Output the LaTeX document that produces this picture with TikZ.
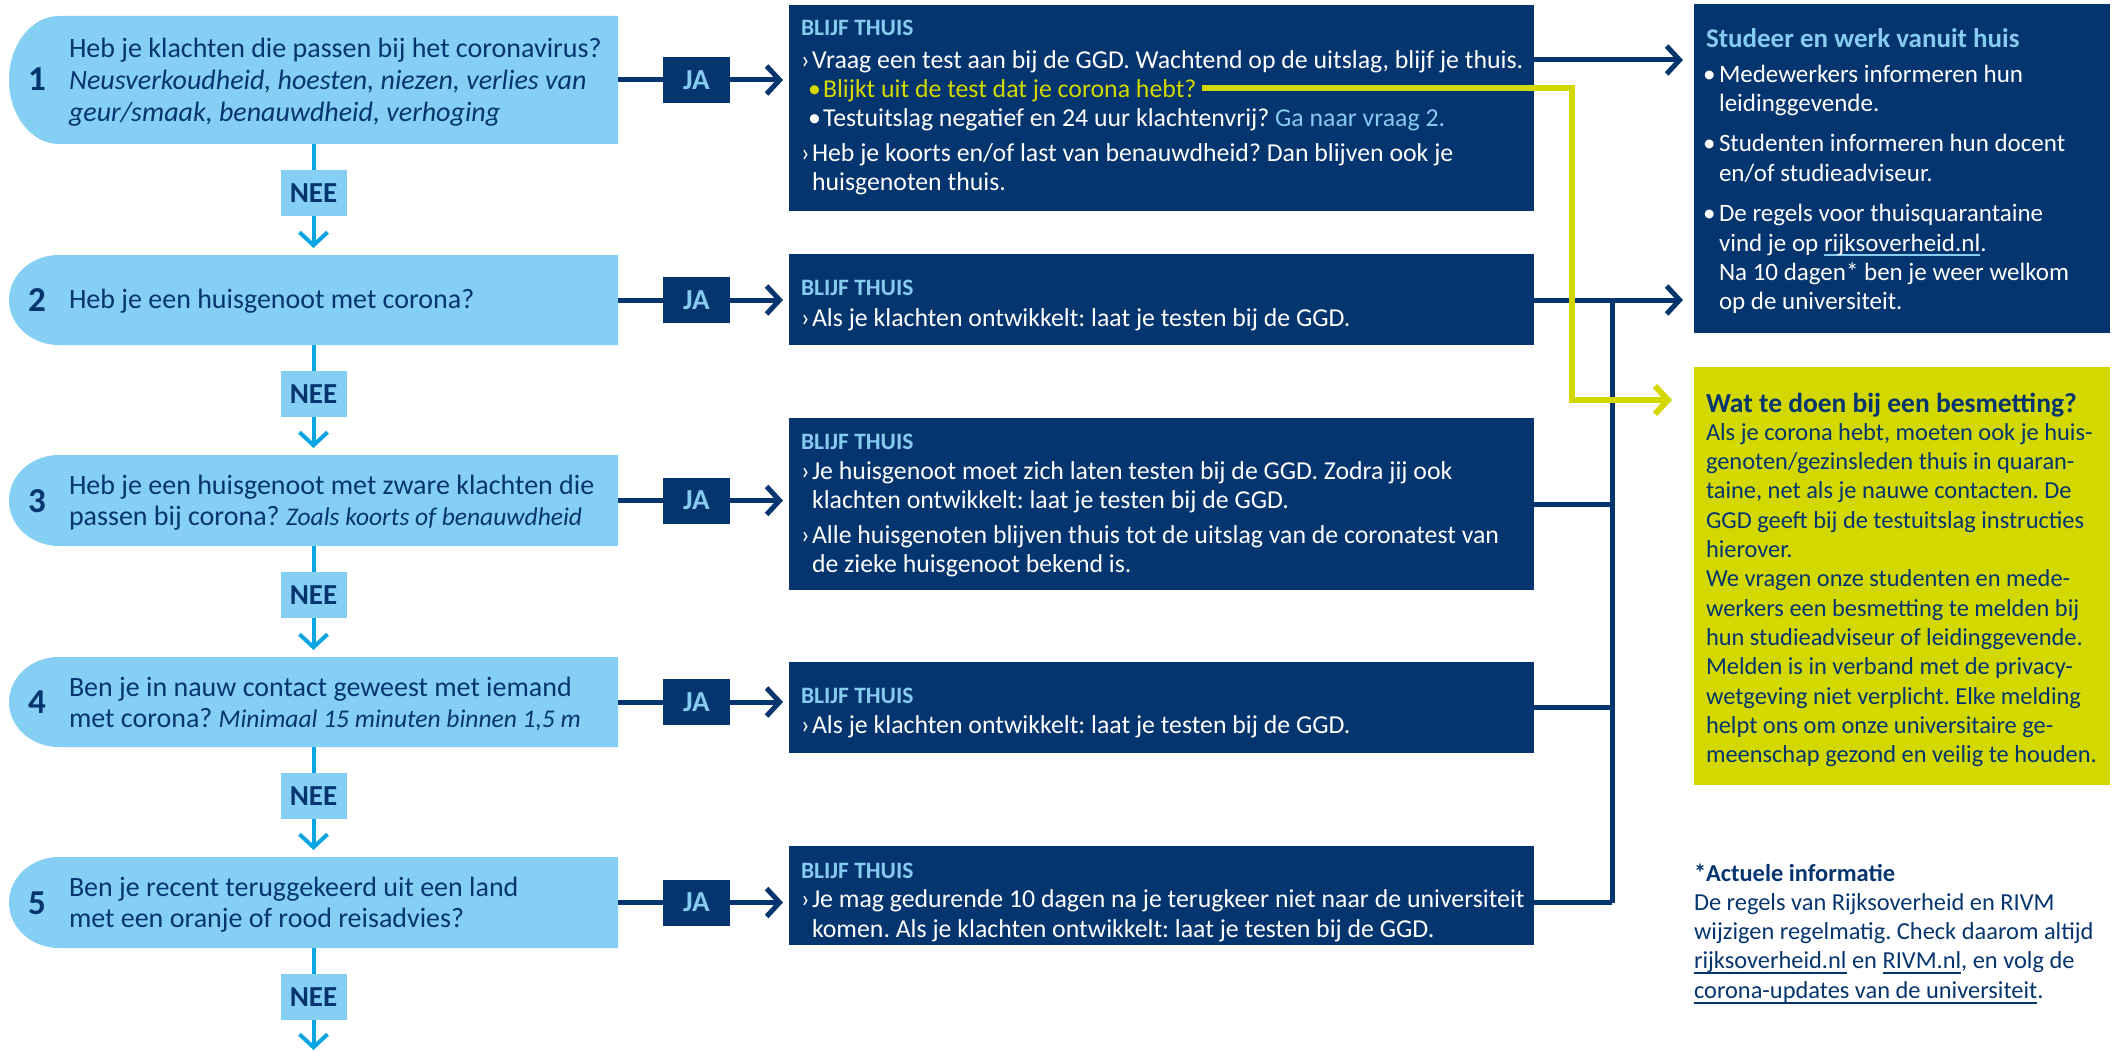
\documentclass[tikz,border=0pt]{standalone}
\usepackage{fontspec}
\setmainfont{Carlito}
\usetikzlibrary{arrows.meta}
\definecolor{dblue}{HTML}{05356F}
\definecolor{lblue}{HTML}{85CFF4}
\definecolor{cyanl}{HTML}{0AA5E2}
\definecolor{hblue}{HTML}{86CBF0}
\definecolor{ylw}{HTML}{D3D800}
\newcommand\fsz[1]{\fontsize{#1pt}{#1pt}\selectfont}
\newsavebox\ulbox
\newcommand\ulc[3][6pt]{\sbox\ulbox{#3}\rlap{\color{#2}\rule[-#1]{\wd\ulbox}{1.6pt}}\usebox\ulbox}
\newcommand\qfill[2]{\fill[lblue] (#1.north east) -- ([xshift=50pt]#1.north west) arc[start angle=90,end angle=270,x radius=50pt,y radius=#2pt] -- (#1.south east) -- cycle;}
\newcommand\qit[1]{{\fontsize{25.5pt}{25.5pt}\selectfont\itshape #1}}
\frenchspacing
\begin{document}
\begin{tikzpicture}[x=1pt,y=-1pt,
  qbox/.style={minimum width=609pt, inner sep=0pt, outer sep=0pt},
  bbox/.style={fill=dblue, minimum width=745pt, inner sep=0pt, outer sep=0pt},
  rbox/.style={minimum width=416pt, inner sep=0pt, outer sep=0pt},
  jalab/.style={fill=dblue, text=hblue, font=\fsz{29}\bfseries, minimum width=67pt, minimum height=46pt, inner sep=0pt, outer sep=0pt},
  neelab/.style={fill=lblue, text=dblue, font=\fsz{29}\bfseries, minimum width=66pt, minimum height=46pt, inner sep=0pt, outer sep=0pt},
  tline/.style={anchor=base west, inner sep=0pt, outer sep=0pt},
  qtxt/.style={tline, text=dblue, font=\fsz{28}},
  qnum/.style={anchor=base, inner sep=0pt, text=dblue, font=\fsz{35}\bfseries},
  bhead/.style={tline, text=hblue, font=\fsz{23.5}\bfseries},
  btxt/.style={tline, text=white, font=\fsz{25.8}},
  shead/.style={tline, text=hblue, font=\fsz{27}\bfseries},
  stxt/.style={tline, text=white, font=\fsz{25}},
  whead/.style={tline, text=dblue, font=\fsz{27.5}\bfseries},
  wtxt/.style={tline, text=dblue, font=\fsz{24.4}},
  ahead/.style={tline, text=dblue, font=\fsz{24.4}\bfseries},
  dcon/.style={draw=dblue, line width=5pt},
  ccon/.style={draw=cyanl, line width=4pt},
  ycon/.style={draw=ylw, line width=6pt, line join=miter},
  arrw/.style={-{Straight Barb[length=13pt,width=28pt]}}
]
\useasboundingbox (0,0) rectangle (2116,1051);
\fill[white] (0,0) rectangle (2116,1051);

% question boxes
\node[qbox, minimum height=128pt] (q1) at (313.5,80) {};
\node[qbox, minimum height=90pt] (q2) at (313.5,300) {};
\node[qbox, minimum height=91pt] (q3) at (313.5,500.5) {};
\node[qbox, minimum height=90pt] (q4) at (313.5,702) {};
\node[qbox, minimum height=91pt] (q5) at (313.5,902.5) {};
\qfill{q1}{64}
\qfill{q2}{45}
\qfill{q3}{45.5}
\qfill{q4}{45}
\qfill{q5}{45.5}

\node[qnum] (q1n) at (37,91) {1};
\node[qtxt] (q1a) at (69,58) {Heb je klachten die passen bij het coronavirus?};
\node[qtxt] (q1b) at (69,90) {\itshape Neusverkoudheid, hoesten, niezen, verlies van};
\node[qtxt] (q1c) at (69,122) {\itshape geur/smaak, benauwdheid, verhoging};
\node[qnum] (q2n) at (37,311) {2};
\node[qtxt] (q2a) at (69,308) {Heb je een huisgenoot met corona?};
\node[qnum] (q3n) at (37,512) {3};
\node[qtxt] (q3a) at (69,494) {Heb je een huisgenoot met zware klachten die};
\node[qtxt] (q3b) at (69,525) {passen bij corona? \qit{Zoals koorts of benauwdheid}};
\node[qnum] (q4n) at (37,713) {4};
\node[qtxt] (q4a) at (69,696) {Ben je in nauw contact geweest met iemand};
\node[qtxt] (q4b) at (69,727) {met corona? \qit{Minimaal 15 minuten binnen 1,5 m}};
\node[qnum] (q5n) at (37,914) {5};
\node[qtxt] (q5a) at (69,896) {Ben je recent teruggekeerd uit een land};
\node[qtxt] (q5b) at (69,927) {met een oranje of rood reisadvies?};

% NEE labels
\node[neelab] (n1) at (313.5,193) {NEE};
\node[neelab] (n2) at (313.5,394) {NEE};
\node[neelab] (n3) at (313.5,595) {NEE};
\node[neelab] (n4) at (313.5,796) {NEE};
\node[neelab] (n5) at (313.5,997) {NEE};
\coordinate (qend) at (313.5,1051);

% JA labels
\node[jalab] (j1) at (696.5,80) {JA};
\node[jalab] (j2) at (696.5,300) {JA};
\node[jalab] (j3) at (696.5,500.5) {JA};
\node[jalab] (j4) at (696.5,702) {JA};
\node[jalab] (j5) at (696.5,902.5) {JA};

% BLIJF THUIS boxes
\node[bbox, minimum height=206pt] (b1) at (1161.5,108) {};
\node[bbox, minimum height=91pt] (b2) at (1161.5,299.5) {};
\node[bbox, minimum height=172pt] (b3) at (1161.5,504) {};
\node[bbox, minimum height=91pt] (b4) at (1161.5,707.5) {};
\node[bbox, minimum height=99pt] (b5) at (1161.5,895.5) {};

\node[bhead] (b1h) at (801,36) {BLIJF THUIS};
\node[btxt] (b1a) at (801,69) {\makebox[11pt][l]{›}Vraag een test aan bij de GGD. Wachtend op de uitslag, blijf je thuis.};
\node[btxt, text=ylw] (b1b) at (808,98) {\makebox[15pt][l]{•}Blijkt uit de test dat je corona hebt?};
\node[btxt] (b1c) at (808,127) {\makebox[15pt][l]{•}Testuitslag negatief en 24 uur klachtenvrij? \textcolor{hblue}{Ga naar vraag 2.}};
\node[btxt] (b1d) at (801,162) {\makebox[11pt][l]{›}Heb je koorts en/of last van benauwdheid? Dan blijven ook je};
\node[btxt] (b1e) at (812,191) {huisgenoten thuis.};

\node[bhead] (b2h) at (801,295) {BLIJF THUIS};
\node[btxt] (b2a) at (801,326) {\makebox[11pt][l]{›}Als je klachten ontwikkelt: laat je testen bij de GGD.};

\node[bhead] (b3h) at (801,449) {BLIJF THUIS};
\node[btxt] (b3a) at (801,479) {\makebox[11pt][l]{›}Je huisgenoot moet zich laten testen bij de GGD. Zodra jij ook};
\node[btxt] (b3b) at (812,508) {klachten ontwikkelt: laat je testen bij de GGD.};
\node[btxt] (b3c) at (801,543) {\makebox[11pt][l]{›}Alle huisgenoten blijven thuis tot de uitslag van de coronatest van};
\node[btxt] (b3d) at (812,572) {de zieke huisgenoot bekend is.};

\node[bhead] (b4h) at (801,703) {BLIJF THUIS};
\node[btxt] (b4a) at (801,733) {\makebox[11pt][l]{›}Als je klachten ontwikkelt: laat je testen bij de GGD.};

\node[bhead] (b5h) at (801,878) {BLIJF THUIS};
\node[btxt] (b5a) at (801,907) {\makebox[11pt][l]{›}Je mag gedurende 10 dagen na je terugkeer niet naar de universiteit};
\node[btxt] (b5b) at (812,937) {komen. Als je klachten ontwikkelt: laat je testen bij de GGD.};

% right column
\node[rbox, fill=dblue, minimum height=329pt] (sbox) at (1902,168.5) {};
\node[rbox, fill=ylw, minimum height=418pt] (wbox) at (1902,576) {};

\node[shead] (sh) at (1706,48) {Studeer en werk vanuit huis};
\node[stxt] (s1) at (1703,83) {\makebox[16pt][l]{•}Medewerkers informeren hun};
\node[stxt] (s2) at (1719,112) {leidinggevende.};
\node[stxt] (s3) at (1703,152) {\makebox[16pt][l]{•}Studenten informeren hun docent};
\node[stxt] (s4) at (1719,182) {en/of studieadviseur.};
\node[stxt] (s5) at (1703,222) {\makebox[16pt][l]{•}De regels voor thuisquarantaine};
\node[stxt] (s6) at (1719,251) {vind je op \ulc[5pt]{hblue}{rijksoverheid.nl}.};
\node[stxt] (s7) at (1719,280) {Na 10 dagen* ben je weer welkom};
\node[stxt] (s8) at (1719,309) {op de universiteit.};

\node[whead] (wh) at (1706,412) {Wat te doen bij een besmetting?};
\foreach \t [count=\i from 0] in {{Als je corona hebt, moeten ook je huis-},{genoten/gezinsleden thuis in quaran-},{taine, net als je nauwe contacten. De},{GGD geeft bij de testuitslag instructies},{hierover.},{We vragen onze studenten en mede-},{werkers een besmetting te melden bij},{hun studieadviseur of leidinggevende.},{Melden is in verband met de privacy-},{wetgeving niet verplicht. Elke melding},{helpt ons om onze universitaire ge-},{meenschap gezond en veilig te houden.}}
  \node[wtxt] (w\i) at (1706,{440+29.36*\i}) {\t};

\node[ahead] (ah) at (1694,881) {*Actuele informatie};
\node[wtxt] (a1) at (1694,910) {De regels van Rijksoverheid en RIVM};
\node[wtxt] (a2) at (1694,939) {wijzigen regelmatig. Check daarom altijd};
\node[wtxt] (a3) at (1694,968) {\ulc{dblue}{rijksoverheid.nl} en \ulc{dblue}{RIVM.nl}, en volg de};
\node[wtxt] (a4) at (1694,998) {\ulc{dblue}{corona-updates van de universiteit}.};

% NEE connectors
\draw[ccon] (q1.south) -- (n1.north);
\draw[ccon,arrw,shorten >=7pt] (n1.south) -- (q2.north);
\draw[ccon] (q2.south) -- (n2.north);
\draw[ccon,arrw,shorten >=7pt] (n2.south) -- (q3.north);
\draw[ccon] (q3.south) -- (n3.north);
\draw[ccon,arrw,shorten >=7pt] (n3.south) -- (q4.north);
\draw[ccon] (q4.south) -- (n4.north);
\draw[ccon,arrw,shorten >=7pt] (n4.south) -- (q5.north);
\draw[ccon] (q5.south) -- (n5.north);
\draw[ccon,arrw,shorten >=1pt] (n5.south) -- (qend);

% JA connectors
\draw[dcon] (q1.east |- j1) -- (j1.west);
\draw[dcon,arrw,shorten >=6pt] (j1.east) -- (j1.east -| b1.west);
\draw[dcon] (q2.east |- j2) -- (j2.west);
\draw[dcon,arrw,shorten >=6pt] (j2.east) -- (j2.east -| b2.west);
\draw[dcon] (q3.east |- j3) -- (j3.west);
\draw[dcon,arrw,shorten >=6pt] (j3.east) -- (j3.east -| b3.west);
\draw[dcon] (q4.east |- j4) -- (j4.west);
\draw[dcon,arrw,shorten >=6pt] (j4.east) -- (j4.east -| b4.west);
\draw[dcon] (q5.east |- j5) -- (j5.west);
\draw[dcon,arrw,shorten >=6pt] (j5.east) -- (j5.east -| b5.west);

% right connectors
\coordinate (ya) at (1600,60);
\coordinate (yb) at (1600,88);
\coordinate (vx) at (1612,300);
\coordinate (yx) at (1572,400);
\draw[dcon,arrw,shorten >=11pt] (b1.east |- ya) -- (sbox.west |- ya);
\draw[dcon,arrw,shorten >=11pt] (b2.east |- vx) -- (sbox.west |- vx);
\draw[dcon] (b3.east) -- (b3.east -| vx);
\draw[dcon] (b4.east) -- (b4.east -| vx);
\draw[dcon] (b5.east |- j5) -- (vx |- j5);
\draw[dcon] (vx) -- (vx |- j5);
\draw[ycon,arrw,shorten >=22pt] ([xshift=6pt]b1b.east |- yb) -- (yx |- yb) -- (yx) -- (wbox.west |- yx);
\end{tikzpicture}
\end{document}
